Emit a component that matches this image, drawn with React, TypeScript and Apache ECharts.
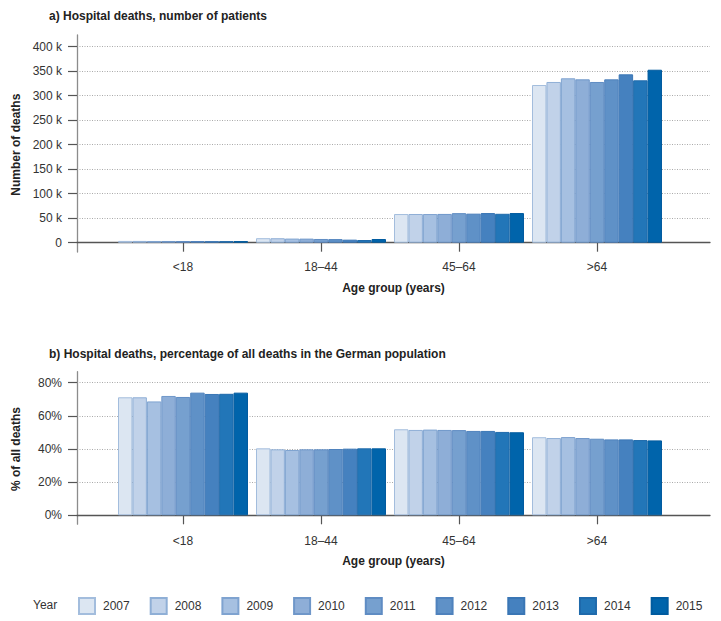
import React, { useEffect, useRef } from "react";
import * as echarts from "echarts";

const ageGroups = ["<18", "18–44", "45–64", ">64"];
const years = ["2007", "2008", "2009", "2010", "2011", "2012", "2013", "2014", "2015"];

// a) number of hospital deaths, one value per year (2007..2015)
const deathsUnder18 = [3600, 3600, 3500, 3500, 3400, 3400, 3200, 3200, 3300];
const deaths18to44 = [9200, 9100, 8400, 8300, 7600, 7300, 6200, 5500, 7500];
const deaths45to64 = [58500, 58600, 58500, 58700, 60300, 59300, 60500, 59000, 60500];
const deathsOver64 = [321800, 328000, 335500, 333400, 328000, 333400, 343600, 331400, 353000];

// b) percentage of all deaths
const pctUnder18 = [71.2, 71.2, 68.7, 72.0, 71.4, 74.0, 73.2, 73.3, 74.0];
const pct18to44 = [40.4, 39.8, 39.4, 39.8, 39.8, 40.0, 40.2, 40.4, 40.4];
const pct45to64 = [51.9, 51.5, 51.7, 51.5, 51.4, 50.9, 50.9, 50.3, 50.1];
const pctOver64 = [47.1, 46.6, 47.2, 46.6, 46.2, 45.8, 45.8, 45.4, 45.2];

const fills = ["#dce6f2", "#c1d2e9", "#a6c0e1", "#8eaed7", "#76a0cf", "#5f91c7", "#4581bf", "#2276b8", "#0064ab"];
const borders = ["#a3bddd", "#8fafd6", "#7fa3d0", "#6f97c9", "#5f8cc3", "#4f82bd", "#3a76b5", "#1f6aab", "#005b9f"];

const FONT = "Liberation Sans";
const TXT = "#333333";

export default function App() {
  const ref = useRef<HTMLDivElement>(null);
  useEffect(() => {
    if (!ref.current) return;
    const chart = echarts.init(ref.current, undefined, { renderer: "svg" });

    const deathsByGroup = [deathsUnder18, deaths18to44, deaths45to64, deathsOver64];
    const pctByGroup = [pctUnder18, pct18to44, pct45to64, pctOver64];

    const panels = [
      { aTop: 35, aH: 217, bTop: 46.7, bH: 196, max: 400000, interval: 50000, name: "Number of deaths",
        fmt: (v: number) => (v === 0 ? "0" : v / 1000 + " k"), data: deathsByGroup, labelMargin: 18, nameGap: 39 },
      { aTop: 371.7, aH: 152.5, bTop: 382.7, bH: 132.6, max: 80, interval: 20, name: "% of all deaths",
        fmt: (v: number) => v + "%", data: pctByGroup, labelMargin: 20, nameGap: 40 },
    ];

    const grid: any[] = [];
    const xAxis: any[] = [];
    const yAxis: any[] = [];
    const series: any[] = [];

    panels.forEach((p, pi) => {
      const g0 = pi * 3;
      grid.push({ left: 77, width: 633, top: p.aTop, height: p.aH });
      grid.push({ left: 77, width: 633, top: p.bTop, height: p.bH });
      grid.push({ left: 114, width: 552, top: p.bTop, height: p.bH });

      xAxis.push({ gridIndex: g0, type: "value", show: false, min: 0, max: 1 });
      yAxis.push({
        gridIndex: g0, type: "value", min: 0, max: 1,
        axisLine: { show: true, lineStyle: { color: "#8c8c8c", width: 1.3 } },
        axisTick: { show: false }, axisLabel: { show: false }, splitLine: { show: false },
      });

      xAxis.push({
        gridIndex: g0 + 1, type: "value", min: 0, max: 1,
        axisLine: { show: true, onZero: false, lineStyle: { color: "#555555", width: 1.3 } },
        axisTick: { show: false }, axisLabel: { show: false }, splitLine: { show: false },
        name: "Age group (years)", nameLocation: "middle", nameGap: p.nameGap,
        nameTextStyle: { fontFamily: FONT, fontSize: 12, fontWeight: "bold", color: "#222" },
      });
      yAxis.push({
        gridIndex: g0 + 1, type: "value", min: 0, max: p.max, interval: p.interval,
        axisLine: { show: false },
        axisTick: { show: true, length: 9, lineStyle: { color: "#555555", width: 1.2 } },
        axisLabel: { margin: 15, fontFamily: FONT, fontSize: 12, color: TXT, formatter: p.fmt },
        splitLine: { show: true, lineStyle: { color: "#aaaaaa", type: [1, 1.5], width: 1 } },
        name: p.name, nameLocation: "middle", nameGap: 55,
        nameTextStyle: { fontFamily: FONT, fontSize: 12, fontWeight: "bold", color: "#222" },
      });

      xAxis.push({
        gridIndex: g0 + 2, type: "category", data: ageGroups,
        axisLine: { show: false },
        axisTick: { show: true, alignWithLabel: true, length: 9, lineStyle: { color: "#555555", width: 1.2 } },
        axisLabel: { margin: p.labelMargin, fontFamily: FONT, fontSize: 12, color: TXT },
      });
      yAxis.push({ gridIndex: g0 + 2, type: "value", min: 0, max: p.max, show: false });

      years.forEach((y, yi) => {
        series.push({
          type: "bar", name: y, xAxisIndex: g0 + 2, yAxisIndex: g0 + 2,
          data: p.data.map((arr) => arr[yi]),
          barGap: "0%", barCategoryGap: "5.8%",
          itemStyle: { color: fills[yi], borderColor: borders[yi], borderWidth: 1 },
        });
      });
    });

    chart.setOption({
      animation: false,
      textStyle: { fontFamily: FONT },
      title: [
        { text: "a) Hospital deaths, number of patients", left: 44, top: 5,
          textStyle: { fontFamily: FONT, fontSize: 12, fontWeight: "bold", color: "#222" } },
        { text: "b) Hospital deaths, percentage of all deaths in the German population", left: 44, top: 343,
          textStyle: { fontFamily: FONT, fontSize: 12, fontWeight: "bold", color: "#222" } },
      ],
      legend: {
        data: years, left: 78, top: 597, padding: 0, icon: "rect", itemWidth: 16, itemHeight: 16, itemGap: 20,
        selectedMode: false,
        textStyle: { fontFamily: FONT, fontSize: 12, color: TXT, padding: [0, 0, 0, 3] },
      },
      graphic: [
        { type: "text", left: 33, top: 597,
          style: { text: "Year", fontFamily: FONT, fontSize: 12, fill: TXT, lineHeight: 16 } },
      ],
      grid, xAxis, yAxis, series,
    });
    return () => chart.dispose();
  }, []);
  return <div ref={ref} style={{ position: "fixed", left: 0, top: 0, width: 721, height: 621, background: "#fff" }} />;
}
